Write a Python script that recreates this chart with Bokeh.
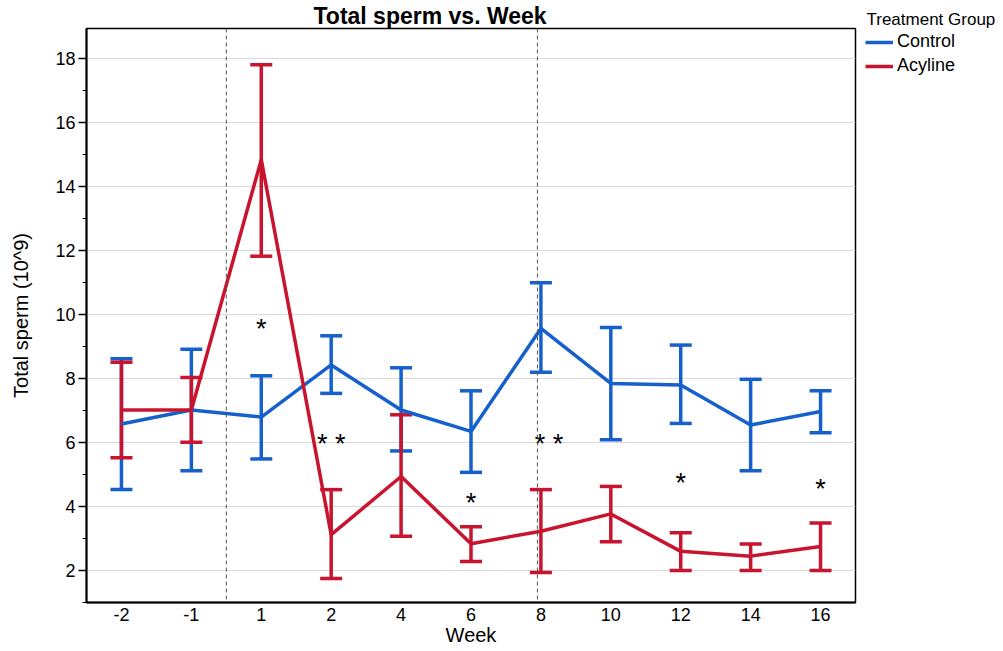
from bokeh.plotting import figure
from bokeh.layouts import row
from bokeh.models import (ColumnDataSource, Whisker, TeeHead, Span, Legend, LegendItem,
                          FixedTicker, FactorRange, Range1d)
from bokeh.core.properties import value
from bokeh.embed import file_html
from bokeh.resources import INLINE

weeks = ["-2", "-1", "1", "2", "4", "6", "8", "10", "12", "14", "16"]

control_mean = [6.58, 7.02, 6.80, 8.43, 7.02, 6.35, 9.57, 7.85, 7.80, 6.55, 6.97]
control_upper = [8.62, 8.92, 8.09, 9.34, 8.34, 7.62, 11.00, 9.60, 9.05, 7.98, 7.62]
control_lower = [4.53, 5.12, 5.49, 7.54, 5.74, 5.07, 8.20, 6.09, 6.60, 5.12, 6.31]

acyline_mean = [7.02, 7.02, 14.85, 3.12, 4.94, 2.84, 3.23, 3.77, 2.60, 2.45, 2.75]
acyline_upper = [8.51, 8.04, 17.82, 4.53, 6.87, 3.37, 4.53, 4.63, 3.18, 2.83, 3.49]
acyline_lower = [5.53, 6.01, 11.83, 1.75, 3.07, 2.28, 1.94, 2.90, 2.00, 2.00, 2.00]

star_weeks = ["1", "2", "6", "12", "16"]
star_text = ["*", "* *", "*", "*", "*"]
star_y = [9.55, 5.95, 4.1, 4.75, 4.55]
star8_week = ["8"]
star8_text = ["* *"]
star8_y = [5.95]

y_ticks = [2, 4, 6, 8, 10, 12, 14, 16, 18]

BLUE = "#1660CC"
RED = "#C8142E"
FONT = "Liberation Sans"

p = figure(width=857, height=651, x_range=FactorRange(*weeks, range_padding=0),
           y_range=Range1d(1.0, 18.95), output_backend="svg", toolbar_location=None,
           min_border_left=86, min_border_right=2, min_border_top=25, min_border_bottom=49)

p.title.text = "Total sperm vs. Week"
p.title.text_font = FONT
p.title.text_font_size = "23px"
p.title.text_font_style = "bold"
p.title.text_color = "black"
p.title.align = "left"
p.title.offset = 227
p.title.standoff = 0

p.outline_line_color = "black"
p.outline_line_width = 1.5
p.xgrid.grid_line_color = None
p.ygrid.grid_line_color = "#d9d9d9"
p.ygrid.grid_line_width = 1

p.yaxis.ticker = FixedTicker(ticks=y_ticks, minor_ticks=list(range(1, 20)))
p.yaxis.axis_label = "Total sperm (10^9)"
p.xaxis.axis_label = "Week"
for ax in (p.xaxis[0], p.yaxis[0]):
    ax.axis_line_color = "black"
    ax.axis_line_width = 2
    ax.major_label_text_font = FONT
    ax.major_label_text_font_size = "18px"
    ax.major_label_text_color = "black"
    ax.axis_label_text_font = FONT
    ax.axis_label_text_font_style = "normal"
    ax.axis_label_text_color = "black"
p.yaxis.axis_label_text_font_size = "20px"
p.xaxis.axis_label_text_font_size = "20px"
p.yaxis.major_tick_out = 8
p.yaxis.major_tick_in = 0
p.yaxis.minor_tick_out = 4
p.yaxis.minor_tick_in = 0
p.yaxis.major_tick_line_color = "black"
p.yaxis.major_tick_line_width = 1.5
p.yaxis.minor_tick_line_color = "black"
p.yaxis.major_label_standoff = 3
p.yaxis.axis_label_standoff = 20
p.xaxis.major_tick_line_color = None
p.xaxis.minor_tick_line_color = None
p.xaxis.major_tick_out = 0
p.xaxis.major_label_standoff = 5
p.xaxis.axis_label_standoff = 0

# dashed reference lines
p.add_layout(Span(location=2.0, dimension="height", line_color="#555555",
                  line_dash="4 3", line_width=1))
p.add_layout(Span(location=weeks.index("8") + 0.45, dimension="height",
                  line_color="#555555", line_dash="4 3", line_width=1))

src_c = ColumnDataSource(dict(x=weeks, y=control_mean, up=control_upper, lo=control_lower))
src_a = ColumnDataSource(dict(x=weeks, y=acyline_mean, up=acyline_upper, lo=acyline_lower))

for src, col in ((src_c, BLUE), (src_a, RED)):
    w = Whisker(source=src, base="x", upper="up", lower="lo", line_color=col, line_width=3.5,
                upper_head=TeeHead(size=22, line_color=col, line_width=3.5),
                lower_head=TeeHead(size=22, line_color=col, line_width=3.5))
    p.add_layout(w)

p.line("x", "y", source=src_c, line_color=BLUE, line_width=3.5)
p.line("x", "y", source=src_a, line_color=RED, line_width=3.5)

p.text(star_weeks, star_y, text=star_text, text_font=value(FONT), text_font_size="27px",
       text_align="center", text_baseline="middle", text_color="black")
p.text(star8_week, star8_y, text=star8_text, text_font=value(FONT), text_font_size="27px",
       text_align="center", text_baseline="middle", text_color="black", x_offset=8)

# legend panel to the right
lf = figure(width=146, height=651, output_backend="svg", toolbar_location=None,
            x_axis_type=None, y_axis_type=None, min_border=0, min_border_top=25,
            title="Treatment Group",
            x_range=Range1d(0, 1), y_range=Range1d(0, 1))
lf.title.text_font = FONT
lf.title.text_font_size = "17px"
lf.title.text_font_style = "normal"
lf.title.text_color = "black"
lf.title.align = "left"
lf.title.offset = 9
lf.title.standoff = 0
lf.outline_line_color = None
lf.xgrid.grid_line_color = None
lf.ygrid.grid_line_color = None
nan = float("nan")
lc = lf.line([nan, nan], [nan, nan], line_color=BLUE, line_width=3.5)
la = lf.line([nan, nan], [nan, nan], line_color=RED, line_width=3.5)

legend = Legend(items=[LegendItem(label="Control", renderers=[lc]),
                       LegendItem(label="Acyline", renderers=[la])],
                location=(8, 526))
legend.label_text_font = FONT
legend.label_text_font_size = "18px"
legend.label_text_color = "black"
legend.glyph_width = 28
legend.glyph_height = 20
legend.label_standoff = 4
legend.spacing = 3
legend.padding = 2
legend.margin = 0
legend.border_line_color = None
legend.background_fill_alpha = 0
lf.add_layout(legend, "center")

open("out.html", "w").write(file_html(row(p, lf), INLINE))
